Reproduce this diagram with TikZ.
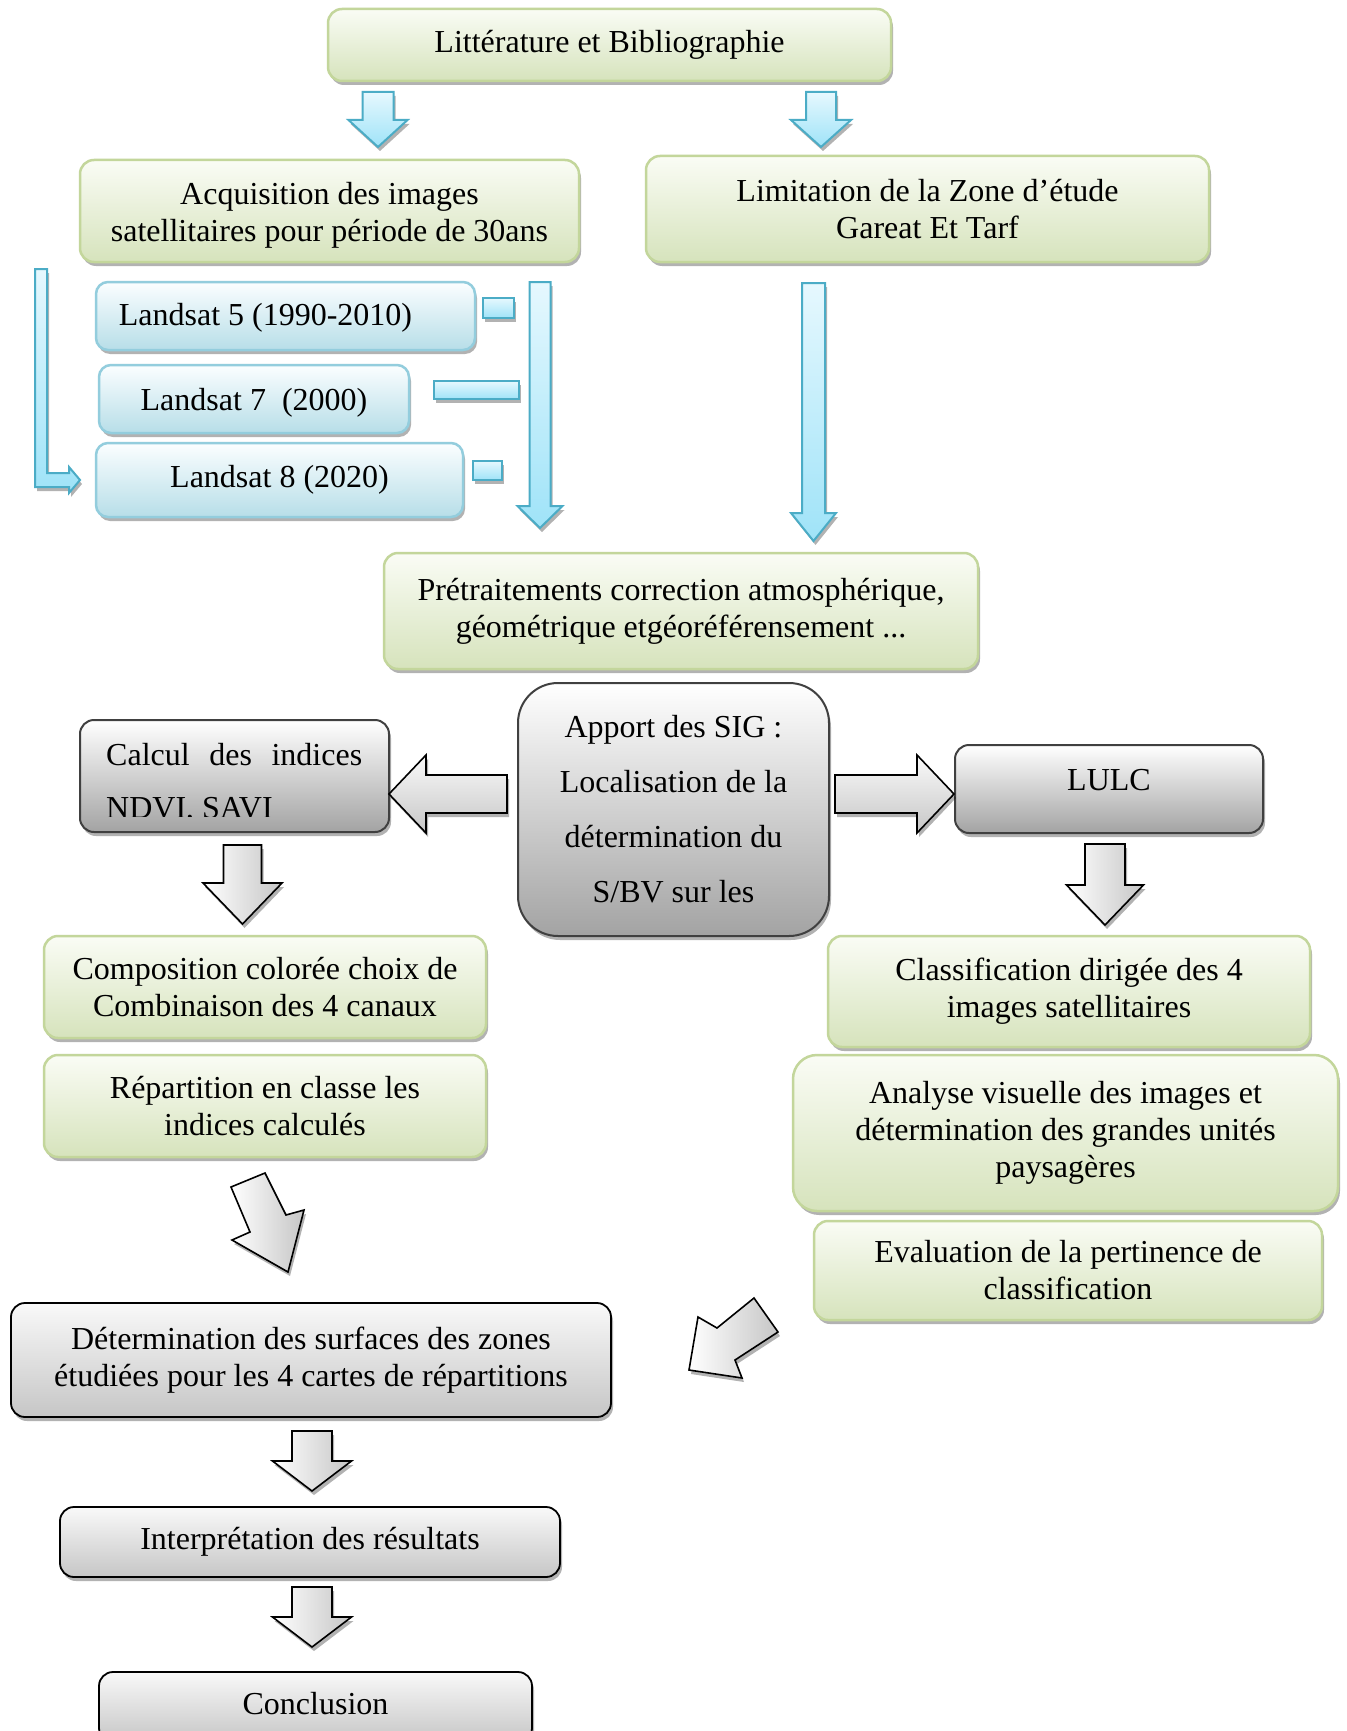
\documentclass[tikz,border=0pt]{standalone}
\usepackage{fontspec}
\setmainfont{Liberation Serif}
\usetikzlibrary{shadows}
\definecolor{grnT}{HTML}{FAFCF5}
\definecolor{grnF}{HTML}{D6E3BC}
\definecolor{grnD}{HTML}{C3D69B}
\definecolor{bluT}{HTML}{FBFEFF}
\definecolor{bluF}{HTML}{B7DEE8}
\definecolor{bluD}{HTML}{93CDDD}
\definecolor{arrD}{HTML}{4BACC6}
\definecolor{arrL}{HTML}{E6F8FE}
\definecolor{arrF}{HTML}{9FE3F8}
\definecolor{gryF}{HTML}{A3A3A3}
\definecolor{gryL}{HTML}{C6C6C6}
\definecolor{gryD}{HTML}{404040}
\newcommand\fs{\fontsize{32}{37}\selectfont}
\newcommand\vdownarr[7]{% style, cx, top, headstart, tip, shaftw, headw
  \draw[#1] ({#2-#6/2},#3) -- ({#2+#6/2},#3) -- ({#2+#6/2},#4) -- ({#2+#7/2},#4) -- (#2,#5) -- ({#2-#7/2},#4) -- ({#2-#6/2},#4) -- cycle;}
\begin{document}
\begin{tikzpicture}[x=1pt,y=-1pt,
  shd/.style={drop shadow={shadow xshift=2pt,shadow yshift=-4pt,fill=black,opacity=0.3}},
  gbox/.style={shd, draw=grnD, line width=2.5pt, rounded corners=14pt, top color=grnT, bottom color=grnF, align=center, inner sep=0pt, font=\fs},
  bbox/.style={shd, draw=bluD, line width=2.5pt, rounded corners=12pt, top color=bluT, bottom color=bluF, align=center, inner sep=0pt, font=\fs},
  kbox/.style={shd, draw=gryD, line width=2pt, rounded corners=14pt, top color=white, bottom color=gryF, align=center, inner sep=0pt, font=\fs},
  lbox/.style={shd, draw=black, line width=1.8pt, rounded corners=14pt, top color=white!95!gray, bottom color=gryL, align=center, inner sep=0pt, font=\fs},
  txt/.style={align=center, inner sep=0pt, font=\fs},
  barr/.style={shd, draw=arrD, line width=2pt, line join=miter, top color=arrL, bottom color=arrF},
  karr/.style={shd, draw=black, line width=1.6pt, line join=miter, left color=white, right color=gryL},
  harr/.style={shd, draw=black, line width=1.6pt, line join=miter, top color=white!96!gray, bottom color=gryL},
]
\clip (0,0) rectangle (1346,1731);
\fill[white] (0,0) rectangle (1346,1731);

% top
\node[gbox, minimum width=563pt, minimum height=72pt] (lit) at (609.5,45) {Littérature et Bibliographie};
\vdownarr{barr}{378}{92}{120}{147}{31}{59}
\vdownarr{barr}{821}{92}{120}{147}{30}{60}

\node[gbox, minimum width=499pt, minimum height=102pt] (acq) at (329.5,211) {};
\node[txt] (acqt) at ([yshift=-4pt]acq.center) {Acquisition des images\\satellitaires pour période de 30ans};
\node[gbox, minimum width=563pt, minimum height=106pt] (lim) at (927.5,209) {Limitation de la Zone d’étude\\Gareat Et Tarf};

% landsat
\node[bbox, minimum width=379pt, minimum height=68pt] (ls5) at (285.5,316) {};
\node[txt] (ls5t) at ([xshift=-20pt,yshift=-2pt]ls5.center) {Landsat 5 (1990-2010)};
\node[bbox, minimum width=310pt, minimum height=68pt] (ls7) at (254,399) {};
\node[txt] (ls7t) at ([yshift=-3.5pt]ls7.center) {Landsat 7\ \ (2000)};
\node[bbox, minimum width=367pt, minimum height=74pt] (ls8) at (279.5,480) {Landsat 8 (2020)};

\draw[barr] (35,269) -- (47,269) -- (47,473) -- (69,473) -- (69,467) -- (80,480) -- (69,493) -- (69,487) -- (35,487) -- cycle;
\draw[barr] (483,298) rectangle (514,318);
\draw[barr] (434,381) rectangle (519,399);
\draw[barr] (473,461) rectangle (502,480);
\vdownarr{barr}{540}{282}{506}{528}{21}{45}
\vdownarr{barr}{813.5}{283}{513}{541}{23}{45}

\node[gbox, minimum width=594pt, minimum height=116pt] (pre) at (681,611) {Prétraitements correction atmosphérique,\\géométrique etgéoréférensement ...};

% middle
\node[kbox, rounded corners=40pt, minimum width=311pt, minimum height=253pt, font=\fontsize{32}{55}\selectfont] (sig) at (673.5,809.5) {Apport des SIG :\\Localisation de la\\détermination du\\S/BV sur les};
\node[kbox, minimum width=309pt, minimum height=112pt] (calc) at (234.5,776) {};
\begin{scope}
\clip (82,722) rectangle (387,816.5);
\node[anchor=base west, inner sep=0pt, font=\fs] (calct1) at (106,765) {\makebox[256pt][s]{Calcul des indices}};
\node[anchor=base west, inner sep=0pt, font=\fs] (calct2) at (106,818) {NDVI, SAVI};
\end{scope}
\node[kbox, minimum width=308pt, minimum height=88pt] (lulc) at (1109,789) {};
\node[txt] (lulct) at ([yshift=9pt]lulc.center) {LULC};

\draw[harr] (507,775) -- (426,775) -- (426,755) -- (389,794) -- (426,833) -- (426,813) -- (507,813) -- cycle;
\draw[harr] (835,775) -- (917,775) -- (917,755) -- (954,794) -- (917,833) -- (917,813) -- (835,813) -- cycle;
\vdownarr{karr}{242.5}{845}{883}{924}{38}{79}
\vdownarr{karr}{1105}{844}{885}{925}{40}{77}

% left column
\node[gbox, minimum width=442pt, minimum height=102pt] (comp) at (265,987) {Composition colorée choix de\\Combinaison des 4 canaux};
\node[gbox, minimum width=442pt, minimum height=102pt] (rep) at (265,1106) {Répartition en classe les\\indices calculés};

% right column
\node[gbox, minimum width=482pt, minimum height=111pt] (cla) at (1069,991.5) {Classification dirigée des 4\\images satellitaires};
\node[gbox, rounded corners=24pt, minimum width=545pt, minimum height=156pt] (ana) at (1065.5,1133) {Analyse visuelle des images et\\détermination des grandes unités\\paysagères};
\node[gbox, minimum width=508pt, minimum height=99pt] (eva) at (1068,1270.5) {Evaluation de la pertinence de\\classification};

% diagonal arrows
\draw[karr] (231,1187) -- (265,1173) -- (286,1215) -- (304,1210) -- (288,1272) -- (232,1240) -- (250,1232) -- cycle;
\draw[karr] (754,1298) -- (717,1328) -- (698,1317) -- (689,1370) -- (742,1378) -- (735,1360) -- (778,1332) -- cycle;

% bottom
\node[lbox, minimum width=600pt, minimum height=114pt] (det) at (311,1360) {Détermination des surfaces des zones\\étudiées pour les 4 cartes de répartitions};
\vdownarr{karr}{312}{1431}{1461}{1491}{40}{79}
\node[lbox, minimum width=500pt, minimum height=70pt] (int) at (310,1542) {Interprétation des résultats};
\vdownarr{karr}{312}{1587}{1617}{1647}{40}{79}
\node[lbox, minimum width=433pt, minimum height=70pt] (con) at (315.5,1707) {};
\node[txt] (cont) at ([yshift=3pt]con.center) {Conclusion};
\end{tikzpicture}
\end{document}
